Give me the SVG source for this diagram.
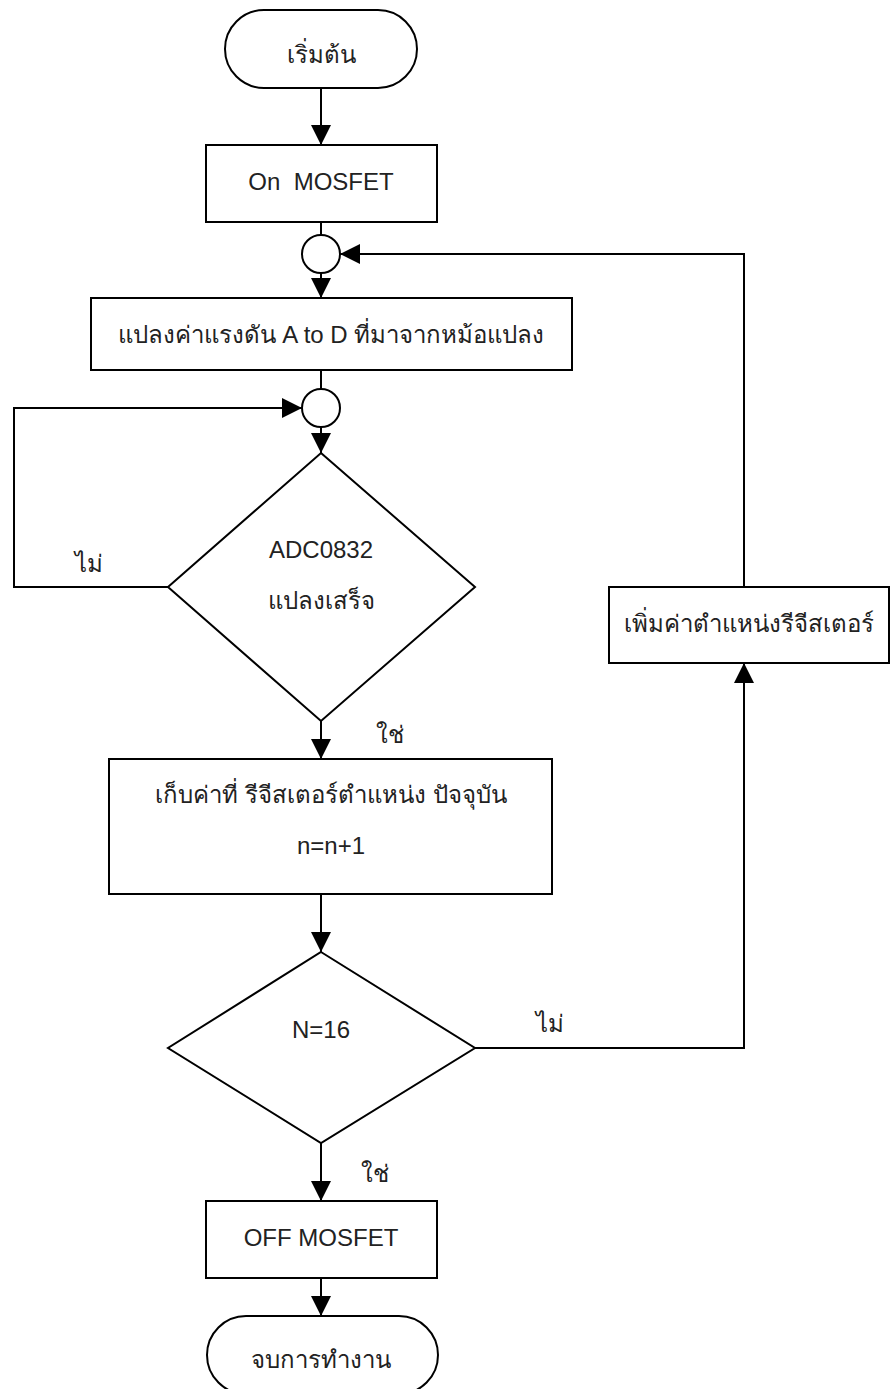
<svg xmlns="http://www.w3.org/2000/svg" width="891" height="1389" viewBox="0 0 891 1389">
<style>
.s{fill:#fff;stroke:#000;stroke-width:2}
.c{fill:none;stroke:#000;stroke-width:2}
.t{font-family:"Liberation Sans",Arial,sans-serif;font-size:24px;fill:#222;text-anchor:middle}
.l{font-family:"Liberation Serif",serif;font-size:24px;fill:#222;text-anchor:middle}
</style>
<defs>
<marker id="ah" viewBox="0 0 20 20" refX="20" refY="10" markerWidth="20" markerHeight="20" markerUnits="userSpaceOnUse" orient="auto">
<path d="M0,0 L20,10 L0,20 z" fill="#000"/>
</marker>
</defs>
<g id="connectors">
<path class="c" d="M321,88 V145" marker-end="url(#ah)"/>
<path class="c" d="M321,222 V235"/>
<path class="c" d="M321,273 V298" marker-end="url(#ah)"/>
<path class="c" d="M321,370 V389"/>
<path class="c" d="M321,427 V453" marker-end="url(#ah)"/>
<path class="c" d="M168,587 H14 V408 H302" marker-end="url(#ah)"/>
<path class="c" d="M321,721 V759" marker-end="url(#ah)"/>
<path class="c" d="M321,894 V952" marker-end="url(#ah)"/>
<path class="c" d="M475,1048 H744 V663" marker-end="url(#ah)"/>
<path class="c" d="M744,587 V254 H340" marker-end="url(#ah)"/>
<path class="c" d="M321,1143 V1201" marker-end="url(#ah)"/>
<path class="c" d="M321,1278 V1316" marker-end="url(#ah)"/>
<text class="l" x="89" y="572">ไม่</text>
<text class="l" x="390" y="743">ใช่</text>
<text class="l" x="550" y="1032">ไม่</text>
<text class="l" x="375" y="1182">ใช่</text>
</g>
<g id="start">
<rect class="s" x="225" y="10" width="192" height="78" rx="39"/>
<text class="t" x="321" y="63">เริ่มต้น</text>
</g>
<g id="on-mosfet">
<rect class="s" x="206" y="145" width="231" height="77"/>
<text class="t" x="321" y="190" xml:space="preserve">On  MOSFET</text>
</g>
<g id="join1">
<circle class="s" cx="321" cy="254" r="19"/>
</g>
<g id="convert">
<rect class="s" x="91" y="298" width="481" height="72"/>
<text class="t" x="331" y="343">แปลงค่าแรงดัน A to D ที่มาจากหม้อแปลง</text>
</g>
<g id="join2">
<circle class="s" cx="321" cy="408" r="19"/>
</g>
<g id="adc-done">
<polygon class="s" points="321,453 475,587 321,721 168,587"/>
<text class="t" x="321" y="558">ADC0832</text>
<text class="t" x="321" y="609">แปลงเสร็จ</text>
</g>
<g id="store">
<rect class="s" x="109" y="759" width="443" height="135"/>
<text class="t" x="331" y="803">เก็บค่าที่ รีจีสเตอร์ตำแหน่ง ปัจจุบัน</text>
<text class="t" x="331" y="854">n=n+1</text>
</g>
<g id="check-n">
<polygon class="s" points="321,952 475,1048 321,1143 168,1048"/>
<text class="t" x="321" y="1038">N=16</text>
</g>
<g id="increment">
<rect class="s" x="609" y="587" width="280" height="76"/>
<text class="t" x="749" y="632">เพิ่มค่าตำแหน่งรีจีสเตอร์</text>
</g>
<g id="off-mosfet">
<rect class="s" x="206" y="1201" width="231" height="77"/>
<text class="t" x="321" y="1246">OFF MOSFET</text>
</g>
<g id="end">
<rect class="s" x="207" y="1316" width="231" height="78" rx="39"/>
<text class="t" x="321" y="1368">จบการทำงาน</text>
</g>
</svg>
